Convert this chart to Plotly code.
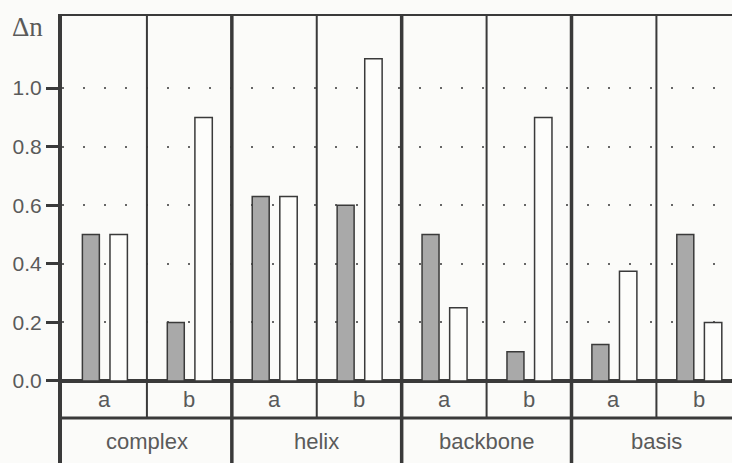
import plotly.graph_objects as go

groups = ["complex", "helix", "backbone", "basis"]
subgroups = ["a", "b"]
gray_values = [0.5, 0.2, 0.63, 0.6, 0.5, 0.1, 0.125, 0.5]
white_values = [0.5, 0.9, 0.63, 1.1, 0.25, 0.9, 0.375, 0.2]
y_ticks = [0.0, 0.2, 0.4, 0.6, 0.8, 1.0]
y_label = "Δn"

n = len(gray_values)
xs = list(range(n))
sub_labels = [subgroups[i % 2] for i in xs]

X_MIN, X_MAX = -0.5, 7.39
Y_MIN, Y_MAX = -0.28, 1.253
ROW1 = -0.126
DARK = "#3a3a3a"
TXT = "#5a5a5a"
FONT = "Liberation Sans"

fig = go.Figure()
fig.add_trace(go.Bar(x=xs, y=gray_values, width=0.2, offset=-0.26,
                     marker=dict(color="#a9a9a9", line=dict(color=DARK, width=1.5)),
                     showlegend=False, hoverinfo="skip"))
fig.add_trace(go.Bar(x=xs, y=white_values, width=0.205, offset=0.065,
                     marker=dict(color="#fdfdfb", line=dict(color=DARK, width=1.5)),
                     showlegend=False, hoverinfo="skip"))

shapes = []
shapes.append(dict(type="line", xref="x", yref="y", x0=X_MIN, x1=X_MAX, y0=Y_MAX, y1=Y_MAX,
                   line=dict(color=DARK, width=4)))
shapes.append(dict(type="line", xref="x", yref="y", x0=X_MIN, x1=X_MAX, y0=ROW1, y1=ROW1,
                   line=dict(color=DARK, width=3)))
for k in range(1, n):
    xk = k - 0.5
    if k % 2 == 0:
        shapes.append(dict(type="line", xref="x", yref="y", x0=xk, x1=xk, y0=Y_MIN, y1=Y_MAX,
                           line=dict(color=DARK, width=3.5)))
    else:
        shapes.append(dict(type="line", xref="x", yref="y", x0=xk, x1=xk, y0=ROW1, y1=Y_MAX,
                           line=dict(color=DARK, width=2)))

annotations = []
for i in xs:
    annotations.append(dict(x=i, y=ROW1 / 2, xref="x", yref="y", text=sub_labels[i],
                            showarrow=False, font=dict(family=FONT, size=22, color=TXT)))
for g, name in enumerate(groups):
    annotations.append(dict(x=2 * g + 0.5, y=(ROW1 + Y_MIN) / 2 - 0.005, xref="x", yref="y", text=name,
                            showarrow=False, font=dict(family=FONT, size=22, color=TXT)))
annotations.append(dict(x=-0.052, y=0.972, xref="paper", yref="paper", text=y_label, showarrow=False,
                        xanchor="center", yanchor="middle",
                        font=dict(family="Liberation Serif", size=27, color=TXT)))

fig.update_layout(
    width=732, height=463,
    margin=dict(l=62, r=0, t=14, b=0, autoexpand=False),
    paper_bgcolor="#fbfbf9", plot_bgcolor="#fbfbf9",
    barmode="overlay",
    shapes=shapes, annotations=annotations,
    xaxis=dict(range=[X_MIN, X_MAX], showticklabels=False, showgrid=False, zeroline=False,
               showline=False, ticks="", automargin=False),
    yaxis=dict(range=[Y_MIN, Y_MAX], tickvals=y_ticks, ticktext=[f"{v:.1f}" for v in y_ticks],
               automargin=False,
               showline=True, linewidth=4, linecolor=DARK,
               ticks="outside", ticklen=12, tickwidth=3, tickcolor=DARK,
               tickfont=dict(family=FONT, size=21, color=TXT),
               showgrid=True, gridcolor="#666666", gridwidth=2, griddash="2px,19px",
               zeroline=True, zerolinecolor=DARK, zerolinewidth=4),
)

fig.write_html("out.html", config={"displayModeBar": False},
               post_script="document.body.style.margin='0';document.body.style.background='#fbfbf9';")
